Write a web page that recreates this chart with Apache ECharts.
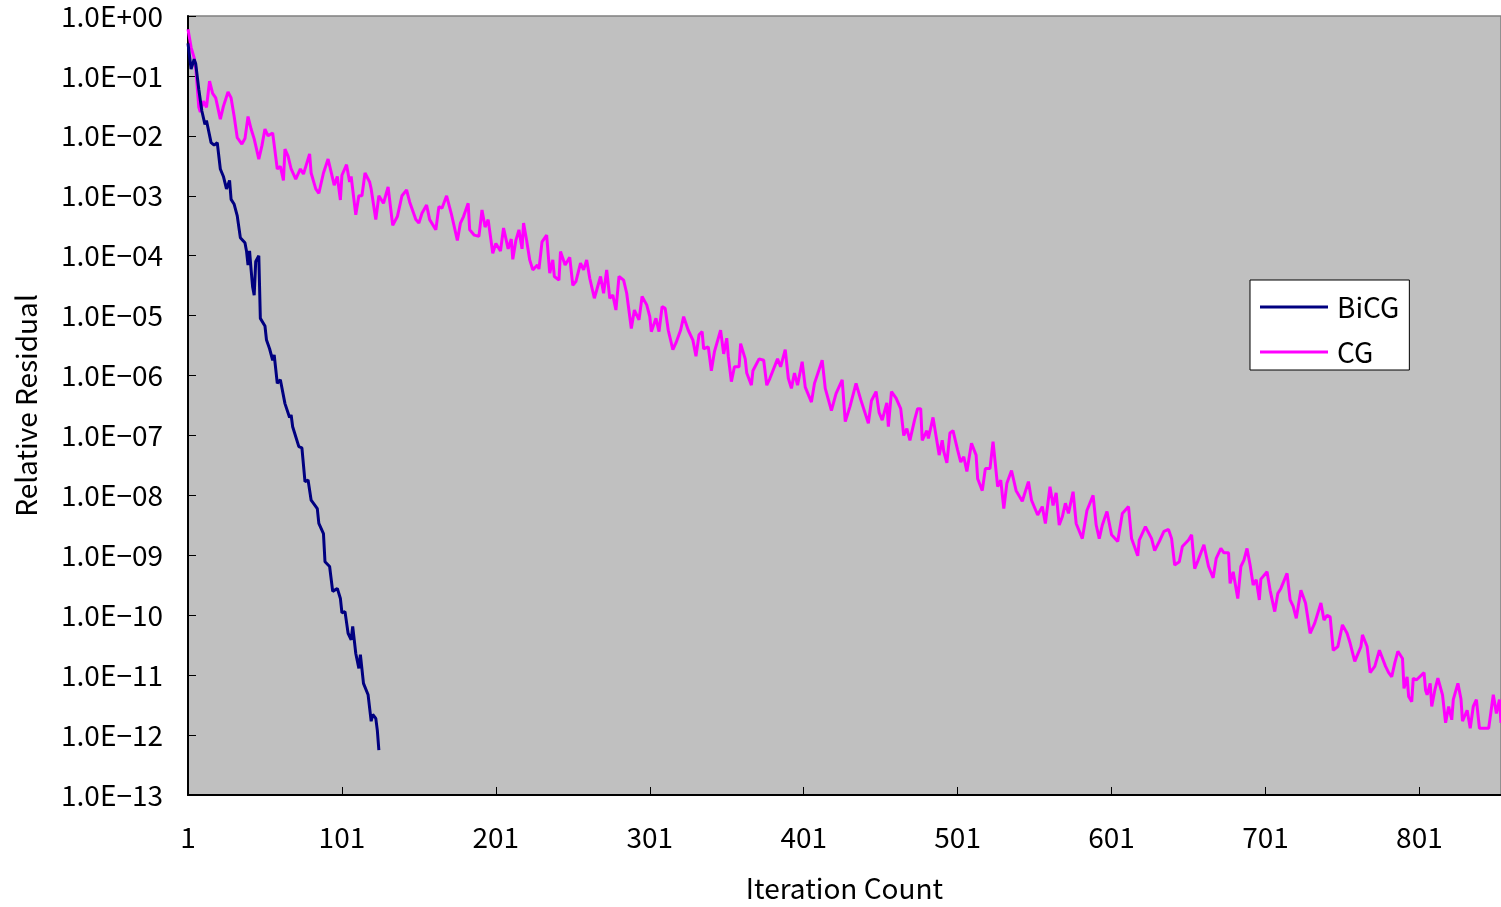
<!DOCTYPE html>
<html>
<head>
<meta charset="utf-8">
<script src="https://cdn.jsdelivr.net/npm/echarts@6/dist/echarts.min.js"></script>
<style>
html,body{margin:0;padding:0;background:#fff;}
#chart{width:1501px;height:907px;}
</style>
</head>
<body>
<div id="chart"></div>
<script>
// [iteration, relative residual]
const bicgPoints = [
[1,3.5e-1],[3,1.3e-1],[5,1.9e-1],[6,1.6e-1],[8,6e-2],[10,2.6e-2],[12,1.55e-2],[13,1.8e-2],[16,7.7e-3],[18,7e-3],[20,7.7e-3],[22,2.8e-3],[24,2.1e-3],[26,1.3e-3],[28,1.8e-3],[29,8.7e-4],[31,7.2e-4],[33,4.6e-4],[35,2e-4],[38,1.65e-4],[39,1.2e-4],[40,7e-5],[41,1.2e-4],[42,5.8e-5],[43,3e-5],[44,2.2e-5],[45,8e-5],[47,1e-4],[48,9e-6],[51,6.7e-6],[52,3.9e-6],[54,2.8e-6],[56,1.8e-6],[57,2.2e-6],[59,7.4e-7],[61,8.5e-7],[64,3.4e-7],[65,3.6e-7],[67,2e-7],[68,2.2e-7],[69,1.4e-7],[73,6.5e-8],[75,6.2e-8],[77,1.7e-8],[79,1.8e-8],[81,8.3e-9],[85,6e-9],[86,3.4e-9],[89,2.3e-9],[90,7.8e-10],[93,6.5e-10],[95,2.5e-10],[98,2.8e-10],[100,1.9e-10],[101,1.1e-10],[103,1.15e-10],[105,5e-11],[107,3.9e-11],[108,6.5e-11],[110,2.3e-11],[112,1.3e-11],[113,2.2e-11],[115,7.3e-12],[118,4.7e-12],[119,4.5e-12],[120,1.7e-12],[121,2.2e-12],[123,1.9e-12],[124,1.2e-12],[125,5.6e-13]
];
const cgPoints = [
[1,6e-1],[3,3e-1],[5,2e-1],[6,1.4e-1],[8,3e-2],[9,2.5e-2],[11,3.8e-2],[13,3e-2],[15,8.2e-2],[17,5.1e-2],[19,4.3e-2],[22,1.9e-2],[24,3.1e-2],[27,5.4e-2],[29,4.3e-2],[31,2.1e-2],[33,9.3e-3],[36,7.3e-3],[38,9e-3],[40,2.1e-2],[42,1.3e-2],[44,8.9e-3],[47,4.1e-3],[49,6.8e-3],[51,1.3e-2],[53,1e-2],[56,1.12e-2],[59,2.8e-3],[61,3.1e-3],[63,1.8e-3],[64,6e-3],[66,4.6e-3],[68,2.8e-3],[71,1.9e-3],[74,2.8e-3],[76,2.3e-3],[80,5e-3],[81,2.4e-3],[84,1.3e-3],[86,1.1e-3],[89,2.4e-3],[92,4.1e-3],[96,1.5e-3],[98,2.1e-3],[100,8.5e-4],[101,2.2e-3],[104,3.3e-3],[106,1.7e-3],[107,2.1e-3],[110,4.8e-4],[112,1e-3],[114,1e-3],[116,2.4e-3],[119,1.7e-3],[120,1.3e-3],[123,4e-4],[125,1e-3],[128,7.5e-4],[131,1.4e-3],[134,3.2e-4],[137,4.5e-4],[140,1e-3],[143,1.25e-3],[145,7.9e-4],[149,4e-4],[151,3.5e-4],[153,5.1e-4],[156,7e-4],[158,4e-4],[162,2.7e-4],[164,6.6e-4],[166,6.2e-4],[169,1e-3],[172,5.1e-4],[176,1.8e-4],[178,3.5e-4],[180,4.5e-4],[183,7.5e-4],[184,2.7e-4],[187,2.2e-4],[190,2.1e-4],[192,5.8e-4],[194,3e-4],[196,4e-4],[199,1.1e-4],[201,1.6e-4],[204,1.2e-4],[206,2.9e-4],[209,1.3e-4],[211,1.9e-4],[212,8.7e-5],[214,1.8e-4],[216,2.7e-4],[218,1.3e-4],[219,3.5e-4],[221,1.8e-4],[223,8.5e-5],[225,5.8e-5],[228,7e-5],[229,6e-5],[231,1.7e-4],[234,2.2e-4],[236,5.1e-5],[238,8.5e-5],[239,4.5e-5],[242,3.9e-5],[243,1.17e-4],[246,7e-5],[249,9.4e-5],[251,3.2e-5],[253,3.7e-5],[256,7.5e-5],[258,5.8e-5],[260,8.5e-5],[262,4.2e-5],[265,1.95e-5],[269,4.5e-5],[271,2.36e-5],[273,5.8e-5],[275,1.95e-5],[277,2.2e-5],[279,1.24e-5],[281,4.5e-5],[284,3.9e-5],[286,2.36e-5],[289,6.1e-6],[291,1.24e-5],[294,8.5e-6],[296,2.08e-5],[299,1.51e-5],[301,9.6e-6],[302,5.4e-6],[305,9e-6],[307,5.4e-6],[309,1.41e-5],[311,1.32e-5],[313,5.7e-6],[316,2.7e-6],[318,3.5e-6],[321,5.7e-6],[323,9.6e-6],[326,5.7e-6],[329,3.9e-6],[331,2.1e-6],[333,4.8e-6],[335,5.4e-6],[336,2.8e-6],[339,3e-6],[341,1.2e-6],[343,2.5e-6],[347,5.7e-6],[349,2.3e-6],[351,4.2e-6],[352,2.1e-6],[354,7.9e-7],[356,1.4e-6],[359,1.4e-6],[360,3.4e-6],[363,1.9e-6],[364,1.1e-6],[367,6.9e-7],[368,1.2e-6],[372,1.9e-6],[375,1.8e-6],[377,6.9e-7],[379,8.9e-7],[384,1.9e-6],[386,1.4e-6],[389,2.7e-6],[391,9e-7],[393,6.1e-7],[395,1.1e-6],[397,6.9e-7],[400,1.7e-6],[402,6.4e-7],[406,3.6e-7],[408,7.4e-7],[413,1.8e-6],[415,6.1e-7],[419,2.6e-7],[422,5e-7],[426,8.5e-7],[428,1.7e-7],[431,3e-7],[435,7.4e-7],[438,4e-7],[443,1.6e-7],[445,3.8e-7],[448,5.4e-7],[450,2.4e-7],[452,1.8e-7],[455,3.5e-7],[456,1.4e-7],[458,5.4e-7],[461,4.2e-7],[464,2.8e-7],[466,1e-7],[468,1.3e-7],[470,8.3e-8],[473,1.8e-7],[475,2.8e-7],[477,2.8e-7],[478,8.3e-8],[481,1.2e-7],[482,8.9e-8],[485,2e-7],[489,4.7e-8],[491,8.3e-8],[492,5.4e-8],[494,3.5e-8],[496,1.1e-7],[498,1.2e-7],[501,5.7e-8],[503,3.6e-8],[505,4.4e-8],[507,2.5e-8],[510,7.4e-8],[513,4.7e-8],[514,1.9e-8],[517,1.2e-8],[519,2.8e-8],[522,2.8e-8],[524,7.9e-8],[527,1.4e-8],[529,1.8e-8],[531,6e-9],[533,1.6e-8],[536,2.6e-8],[539,1.2e-8],[543,8e-9],[547,1.7e-8],[549,8.3e-9],[553,4.7e-9],[556,6.5e-9],[558,3.4e-9],[561,1.4e-8],[563,6.8e-9],[565,1.1e-8],[567,3.2e-9],[569,4.4e-9],[571,7.4e-9],[573,5e-9],[576,1.15e-8],[578,3.4e-9],[582,1.9e-9],[585,5.6e-9],[589,1e-8],[591,3.2e-9],[593,1.9e-9],[595,3.2e-9],[598,5.4e-9],[601,2.2e-9],[605,1.7e-9],[608,5e-9],[612,6.5e-9],[614,1.9e-9],[618,9.8e-10],[619,1.8e-9],[623,3e-9],[627,1.9e-9],[629,1.2e-9],[632,1.7e-9],[635,2.5e-9],[638,2.7e-9],[640,1.9e-9],[642,6.9e-10],[645,7.8e-10],[647,1.4e-9],[651,1.8e-9],[653,2.2e-9],[655,6e-10],[657,8e-10],[661,1.5e-9],[664,6.5e-10],[667,4.2e-10],[669,8.9e-10],[672,1.3e-9],[674,1.1e-9],[677,1.1e-9],[678,3.4e-10],[680,5.3e-10],[683,1.9e-10],[685,6.5e-10],[687,8.3e-10],[689,1.3e-9],[691,6.9e-10],[693,3.2e-10],[695,3.9e-10],[697,1.8e-10],[698,4e-10],[702,5.3e-10],[704,2.6e-10],[707,1.15e-10],[709,2.3e-10],[711,2.8e-10],[715,5e-10],[717,1.8e-10],[719,1.4e-10],[721,8.9e-11],[724,2.6e-10],[727,1.6e-10],[730,5e-11],[733,7.4e-11],[737,1.6e-10],[739,8.3e-11],[741,1e-10],[743,9.4e-11],[745,2.6e-11],[748,3e-11],[751,6.9e-11],[754,5e-11],[756,3.4e-11],[759,1.7e-11],[763,3e-11],[764,4.7e-11],[767,3e-11],[769,1.1e-11],[772,1.4e-11],[775,2.6e-11],[779,1.4e-11],[781,1.1e-11],[783,9.4e-12],[785,1.6e-11],[787,2.5e-11],[790,1.9e-11],[791,6e-12],[793,9.4e-12],[794,4.4e-12],[796,3.6e-12],[797,8.9e-12],[799,8.3e-12],[804,1.1e-11],[805,5.6e-12],[806,4.7e-12],[808,7.3e-12],[809,3e-12],[811,5.6e-12],[813,8.9e-12],[816,4.7e-12],[818,1.6e-12],[820,3e-12],[822,1.8e-12],[823,3.9e-12],[826,7.3e-12],[828,4e-12],[829,1.7e-12],[832,2.6e-12],[834,1.3e-12],[836,3e-12],[838,3.9e-12],[840,1.3e-12],[844,1.3e-12],[846,1.3e-12],[849,4.7e-12],[851,2.3e-12],[853,3.9e-12],[854,1.6e-12]
];
const seriesNames = ['BiCG', 'CG'];
const seriesColors = ['#000080', '#FF00FF'];
const xTitle = 'Iteration Count';
const yTitle = 'Relative Residual';
const xTicks = [1, 101, 201, 301, 401, 501, 601, 701, 801];
const yTicks = [1e0, 1e-1, 1e-2, 1e-3, 1e-4, 1e-5, 1e-6, 1e-7, 1e-8, 1e-9, 1e-10, 1e-11, 1e-12, 1e-13];
const xMin = 1, xMax = 854, xStep = 100;
const yMin = 1e-13, yMax = 1;

const FONT = '"Noto Sans CJK JP", "Noto Sans", sans-serif';

function yLabel(v) {
  const e = Math.round(Math.log10(v));
  const a = Math.abs(e);
  return '1.0E' + (e < 0 ? '\u2212' : '+') + (a < 10 ? '0' + a : '' + a);
}

const chart = echarts.init(document.getElementById('chart'), null, {renderer: 'canvas'});
chart.setOption({
  animation: false,
  backgroundColor: '#ffffff',
  textStyle: {fontFamily: FONT, color: '#000'},
  grid: {
    left: 188, top: 16, right: 0, bottom: 112,
    show: true, backgroundColor: '#C0C0C0', borderColor: '#808080', borderWidth: 1.5
  },
  legend: {
    orient: 'vertical',
    left: 1250, top: 280,
    padding: [13, 10, 4, 10],
    itemGap: 17,
    itemWidth: 68, itemHeight: 3,
    icon: 'rect',
    backgroundColor: '#ffffff',
    borderColor: '#000000', borderWidth: 1,
    textStyle: {fontFamily: FONT, fontSize: 28, color: '#000', padding: [0, 0, 0, 4]},
    data: seriesNames
  },
  xAxis: {
    type: 'value',
    min: xMin, max: xMax, interval: xStep,
    axisLine: {lineStyle: {color: '#000', width: 2}},
    axisTick: {inside: true, length: 8, lineStyle: {color: '#000', width: 1}, customValues: xTicks},
    axisLabel: {fontFamily: FONT, fontSize: 28, color: '#000', margin: 28, customValues: xTicks},
    splitLine: {show: false},
    name: xTitle, nameLocation: 'middle', nameGap: 79,
    nameTextStyle: {fontFamily: FONT, fontSize: 28, color: '#000'}
  },
  yAxis: {
    type: 'log', logBase: 10,
    min: yMin, max: yMax, interval: 1,
    axisLine: {lineStyle: {color: '#000', width: 2}},
    axisTick: {inside: true, length: 8, lineStyle: {color: '#000', width: 1}, customValues: yTicks},
    axisLabel: {fontFamily: FONT, fontSize: 28, color: '#000', margin: 25, formatter: yLabel, customValues: yTicks},
    splitLine: {show: false},
    name: yTitle, nameLocation: 'middle', nameRotate: 90, nameGap: 148,
    nameTextStyle: {fontFamily: FONT, fontSize: 28, color: '#000'}
  },
  series: [
    {
      name: seriesNames[0], type: 'line', data: bicgPoints,
      symbol: 'none', color: seriesColors[0],
      lineStyle: {width: 3, color: seriesColors[0]}, z: 3
    },
    {
      name: seriesNames[1], type: 'line', data: cgPoints,
      symbol: 'none', color: seriesColors[1],
      lineStyle: {width: 3, color: seriesColors[1]}, z: 2
    }
  ]
});
</script>
</body>
</html>
